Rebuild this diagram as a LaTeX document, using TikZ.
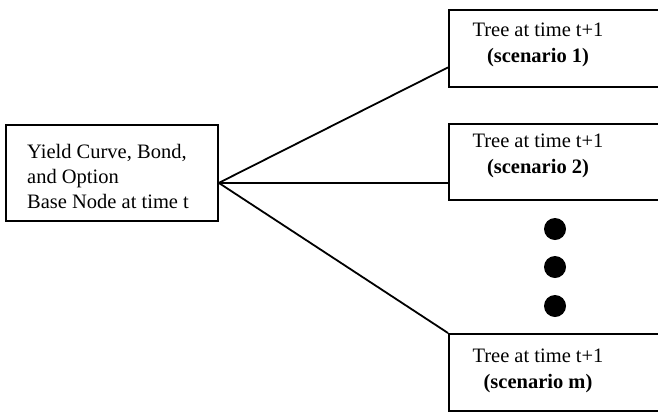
\documentclass[tikz,border=0pt]{standalone}
\usepackage{fontspec}
\setmainfont{Liberation Serif}
\begin{document}
\begin{tikzpicture}[x=1pt,y=-1pt,
  box/.style={draw,line width=1.8pt,inner sep=0pt,anchor=north west},
  label/.style={font=\fontsize{20.5}{26}\selectfont,align=center,inner sep=0pt},
  link/.style={line width=1.8pt},
  dot/.style={circle,fill=black,minimum size=22pt,inner sep=0pt}]
\clip (0,0) rectangle (658,413);
\useasboundingbox (0,0) rectangle (658,413);

% base node on the left
\node[box,minimum width=212pt,minimum height=96pt] (base) at (5,124) {};
\node[label,align=left,anchor=west,font=\fontsize{20.5}{25}\selectfont] (basetext) at (27,176)
  {Yield Curve, Bond,\\and Option\\Base Node at time t};
\coordinate (hub) at ([yshift=-10pt]base.east);

% scenario boxes on the right (running past the right margin)
\node[box,minimum width=216pt,minimum height=77pt] (s1) at (448,9) {};
\node[label] (s1text) at (538,45) {Tree at time t+1\\\textbf{(scenario 1)}};

\node[box,minimum width=216pt,minimum height=76pt] (s2) at (448,123) {};
\node[label] (s2text) at (538,156) {Tree at time t+1\\\textbf{(scenario 2)}};

\node[box,minimum width=216pt,minimum height=77pt] (sm) at (448,333) {};
\node[label] (smtext) at (538,371) {Tree at time t+1\\\textbf{(scenario m)}};

% ellipsis dots
\node[dot] (d1) at (555,229) {};
\node[dot] (d2) at (555,267) {};
\node[dot] (d3) at (555,306) {};

% branches
\draw[link] (hub) -- ([yshift=-19pt]s1.west);
\draw[link] (hub) -- ([yshift=-21pt]s2.west);
\draw[link] (hub) -- (sm.north west);
\end{tikzpicture}
\end{document}
